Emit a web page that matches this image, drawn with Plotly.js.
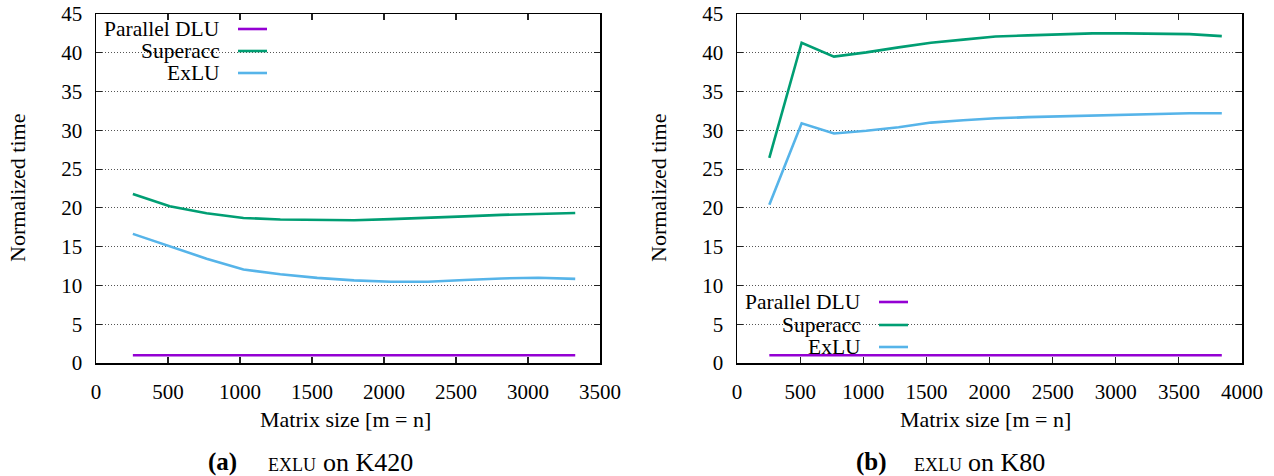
<!DOCTYPE html>
<html><head><meta charset="utf-8">
<script src="https://cdn.plot.ly/plotly-3.0.1.min.js"></script>
<style>html,body{margin:0;padding:0;background:#fff}#c{width:1274px;height:476px}</style>
</head><body><div id="c"></div>
<script>
// Panel (a): K420
const sizesA = [256,512,768,1024,1280,1536,1792,2048,2304,2560,2816,3072,3328];
const dluA = [1,1,1,1,1,1,1,1,1,1,1,1,1];
const superaccA = [21.8,20.2,19.3,18.7,18.5,18.45,18.4,18.55,18.7,18.9,19.1,19.2,19.35];
const exluA = [16.65,15.0,13.45,12.05,11.45,10.98,10.65,10.47,10.47,10.7,10.9,11.0,10.85];
// Panel (b): K80
const sizesB = [256,512,768,1024,1280,1536,1792,2048,2304,2560,2816,3072,3328,3584,3840];
const dluB = [1,1,1,1,1,1,1,1,1,1,1,1,1,1,1];
const superaccB = [26.45,41.3,39.5,40.05,40.7,41.3,41.7,42.1,42.25,42.35,42.5,42.5,42.45,42.4,42.15];
const exluB = [20.4,30.9,29.6,29.95,30.4,31.0,31.3,31.55,31.7,31.8,31.95,32.05,32.1,32.2,32.2];
const seriesNames = ["Parallel DLU","Superacc","ExLU"];
const colors = ["#9400d3","#009e73","#56b4e9"];
const yTicks = [0,5,10,15,20,25,30,35,40,45];
const xTicksA = [0,500,1000,1500,2000,2500,3000,3500];
const xTicksB = [0,500,1000,1500,2000,2500,3000,3500,4000];

const font = "Liberation Serif";
const lw = 2.6;
function tr(x,y,i,ax){return {x:x,y:y,name:seriesNames[i],type:'scatter',mode:'lines',
  line:{color:colors[i],width:lw},xaxis:ax[0],yaxis:ax[1],showlegend:false,hoverinfo:'skip'};}
const data = [
  tr(sizesA,dluA,0,['x','y']),tr(sizesA,superaccA,1,['x','y']),tr(sizesA,exluA,2,['x','y']),
  tr(sizesB,dluB,0,['x2','y2']),tr(sizesB,superaccB,1,['x2','y2']),tr(sizesB,exluB,2,['x2','y2'])
];
const xd1=[96/1274,600/1274], xd2=[737/1274,1242/1274], yd=[1-363/476,1-14/476];
function xax(dom,ticks,anchor){return {domain:dom,range:[0,ticks[ticks.length-1]],tickvals:ticks,
  ticks:'inside',ticklen:6,tickcolor:'#222',tickwidth:1.2,showline:true,linecolor:'#000',linewidth:1.5,
  mirror:'ticks',showgrid:false,zeroline:false,anchor:anchor,ticklabelstandoff:9,tickfont:{family:font,size:21,color:'#000'}};}
function yax(anchor){return {domain:yd,range:[0,45],tickvals:yTicks,ticks:'inside',ticklen:6,tickcolor:'#222',tickwidth:1.2,
  showline:true,linecolor:'#000',linewidth:1.5,mirror:'ticks',showgrid:true,gridcolor:'#555',griddash:'1px,2px',gridwidth:1,
  zeroline:false,anchor:anchor,ticklabelstandoff:8,tickfont:{family:font,size:21,color:'#000'}};}

const ann=[], shapes=[];
function legend(xEnd, ys, bx0, bx1){
  shapes.push({type:'rect',xref:'paper',yref:'paper',x0:bx0/1274,x1:bx1/1274,
    y0:1-(ys[2]+11)/476,y1:1-(ys[0]-11)/476,fillcolor:'#fff',line:{width:0},layer:'below'});
  for(let i=0;i<3;i++){
    ann.push({xref:'paper',yref:'paper',x:xEnd/1274,y:1-ys[i]/476,xanchor:'right',yanchor:'middle',
      text:seriesNames[i],showarrow:false,font:{family:font,size:21.5,color:'#000'}});
    shapes.push({type:'line',xref:'paper',yref:'paper',x0:(xEnd+16)/1274,x1:(xEnd+45)/1274,
      y0:1-ys[i]/476,y1:1-ys[i]/476,line:{color:colors[i],width:lw}});
  }
}
legend(222,[29,51,73],100,280);
legend(863,[302,325,347],750,920);
function txt(x,y,t,size,angle,anchor){ann.push({xref:'paper',yref:'paper',x:x/1274,y:1-y/476,xanchor:anchor||'center',yanchor:'middle',
  text:t,showarrow:false,textangle:angle||0,font:{family:font,size:size,color:'#000'}});}
txt(18,188,'Normalized time',22,-90);
txt(659,188,'Normalized time',22,-90);
txt(345,419,'Matrix size [m = n]',22);
txt(985,419,'Matrix size [m = n]',22);
// captions
txt(206,462,"<b>(a)</b>",25,0,'left');
txt(266,465,"EXLU",18,0,'left');
txt(321,462,"on K420",26,0,'left');
txt(854,462,"<b>(b)</b>",25,0,'left');
txt(912,465,"EXLU",18,0,'left');
txt(966,462,"on K80",26,0,'left');

const layout={width:1274,height:476,margin:{l:0,r:0,t:0,b:0},paper_bgcolor:'#fff',plot_bgcolor:'rgba(0,0,0,0)',
  font:{family:font},
  xaxis:xax(xd1,xTicksA,'y'),yaxis:yax('x'),xaxis2:xax(xd2,xTicksB,'y2'),yaxis2:yax('x2'),
  annotations:ann,shapes:shapes,showlegend:false};
Plotly.newPlot('c',data,layout,{staticPlot:true});
</script></body></html>
